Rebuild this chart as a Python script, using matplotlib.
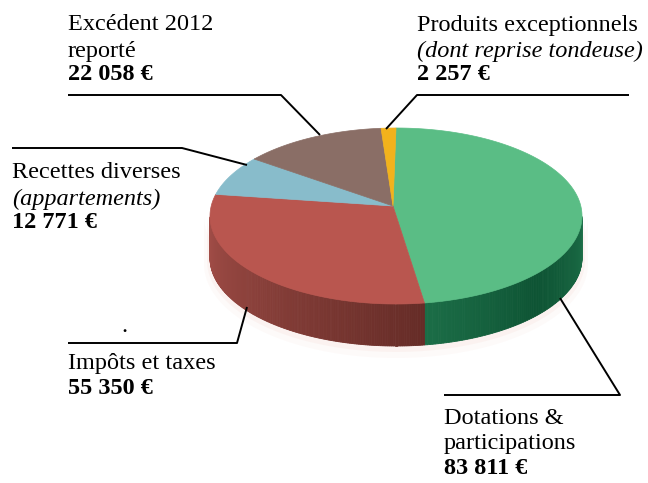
import numpy as np
import matplotlib
matplotlib.use('Agg')
import matplotlib.pyplot as plt
from matplotlib.patches import Polygon
from matplotlib.colors import to_rgb

# data, in drawing order (clockwise from 12 o'clock)
names = ['Dotations &\nparticipations', 'Impôts et taxes', 'Recettes diverses',
         'Excédent 2012\nreporté', 'Produits exceptionnels']
subs = ['', '', '(appartements)', '', '(dont reprise tondeuse)']
values = [83811, 55350, 12771, 22058, 2257]
amounts = ['83 811 €', '55 350 €', '12 771 €', '22 058 €', '2 257 €']
top_colors = ['#5abd85', '#b9564f', '#88bccb', '#8a6e66', '#f2b21c']
side_light = ['#1d7049', '#a34e48', '#6f9aa5', '#6e5852', '#c28e16']
side_dark = ['#0e5434', '#662c27', '#4f7079', '#4c3c37', '#8a650f']

plt.rcParams['font.family'] = ['Liberation Serif', 'DejaVu Serif']

fig = plt.figure(figsize=(6.48, 4.83), dpi=100)
ax = fig.add_axes([0, 0, 1, 1])
ax.set_xlim(0, 648)
ax.set_ylim(483, 0)
ax.axis('off')

cx, cy = 396, 216   # ellipse centre
a, b = 186, 88      # semi axes
depth = 42
apex = (393, 206)   # where the slices meet


def pt(t, dy=0):
    return cx + a * np.cos(t), cy - b * np.sin(t) + dy


fr = np.array(values) / sum(values)
cum = np.radians(360 * np.cumsum(fr))
ends = np.radians(90) - cum
starts = np.radians(90) - np.concatenate([[0], cum[:-1]])

# faint shadow under the disc
sh = np.linspace(np.pi, 2 * np.pi, 100)
for k, al in [(6, 0.05), (3, 0.08)]:
    xs = cx + (a + k) * np.cos(sh)
    ys = cy - (b + k) * np.sin(sh) + depth + k
    ax.fill(np.r_[xs, xs[::-1]], np.r_[ys, ys[::-1] - depth - k], color='#e8a090', alpha=al, lw=0)

# side walls (only the front half is visible)
for i in range(len(values)):
    ts = np.linspace(ends[i], starts[i], 200)
    ts = ts[np.sin(ts) < 0]
    if len(ts) < 2:
        continue
    c0, c1 = np.array(to_rgb(side_light[i])), np.array(to_rgb(side_dark[i]))
    for j in range(len(ts) - 1):
        f = j / (len(ts) - 2)
        if i == 0:
            f = 1 - abs(2 * f - 1) * 0.9
        col = c0 + (c1 - c0) * f
        x0, y0 = pt(ts[j])
        x1, y1 = pt(ts[j + 1])
        ax.add_patch(Polygon([(x0, y0), (x1, y1), (x1, y1 + depth), (x0, y0 + depth)],
                             closed=True, fc=col, ec=col, lw=0.6))

# top faces
for i in range(len(values)):
    ts = np.linspace(ends[i], starts[i], 200)
    xs, ys = pt(ts)
    poly = [apex] + list(zip(xs, ys))
    ax.add_patch(Polygon(poly, closed=True, fc=top_colors[i], ec=top_colors[i], lw=0.5))

# leader lines
lines = [
    [(444, 395), (620, 395), (560, 298)],
    [(68, 343), (237, 343), (247, 307)],
    [(12, 148), (182, 148), (247, 165)],
    [(68, 95), (281, 95), (320, 135)],
    [(629, 95), (417, 95), (386, 129)],
]
for ln in lines:
    xs, ys = zip(*ln)
    ax.plot(xs, ys, color='black', lw=1.4, solid_capstyle='butt')

fs = 17.5
lh = 26


def label(x, y, name, sub, amount):
    for r in name.split('\n'):
        ax.text(x, y, r, fontsize=fs, va='center', ha='left')
        y += lh
    if sub:
        ax.text(x, y, sub, fontsize=fs, va='center', ha='left', style='italic')
        y += lh
    ax.text(x, y - 2, amount, fontsize=fs, va='center', ha='left', weight='bold')


label(444, 418, names[0], subs[0], amounts[0])
label(68, 364, names[1], subs[1], amounts[1])
label(12, 173, names[2], subs[2], amounts[2])
label(68, 25, names[3], subs[3], amounts[3])
label(417, 25, names[4], subs[4], amounts[4])
ax.text(124, 327, '.', fontsize=fs, ha='center', va='center')

fig.savefig('out.png', dpi=100)
